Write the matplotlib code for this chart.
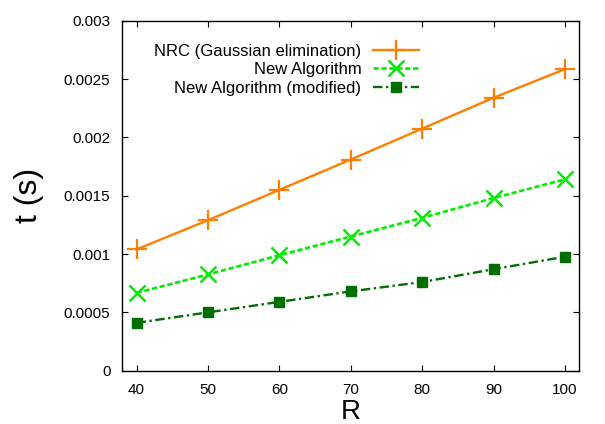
import matplotlib
matplotlib.use("Agg")
import matplotlib.pyplot as plt
from matplotlib.ticker import FixedLocator, FixedFormatter

plt.rcParams['font.family'] = ['Liberation Sans', 'DejaVu Sans']

R = [40, 50, 60, 70, 80, 90, 100]
nrc = [1.04e-3, 1.29e-3, 1.55e-3, 1.81e-3, 2.075e-3, 2.34e-3, 2.585e-3]
new_alg = [0.667e-3, 0.825e-3, 0.99e-3, 1.15e-3, 1.31e-3, 1.48e-3, 1.64e-3]
new_mod = [0.41e-3, 0.50e-3, 0.59e-3, 0.68e-3, 0.76e-3, 0.87e-3, 0.977e-3]

labels = ["NRC (Gaussian elimination)", "New Algorithm", "New Algorithm (modified)"]
xticks = [40, 50, 60, 70, 80, 90, 100]
yticks = [0, 0.0005, 0.001, 0.0015, 0.002, 0.0025, 0.003]
ytick_labels = ["0", "0.0005", "0.001", "0.0015", "0.002", "0.0025", "0.003"]

fig = plt.figure(figsize=(6.05, 4.24), dpi=100)
ax = fig.add_axes([122.3/605, 1-370.7/424, (579.3-122.3)/605, (370.7-20.7)/424])

ax.plot(R, nrc, color='#ff7f00', lw=1.7, ls='-', marker='+', ms=14.5, mew=1.6, label=labels[0])
ax.plot(R, new_alg, color='#00ee00', lw=1.9, ls=(0, (2, 1)), marker='x', ms=11, mew=1.8, label=labels[1])
ax.plot(R, new_mod, color='#006e00', lw=1.7, ls=(0, (4, 1.5, 1, 1.5)), marker='s', ms=7, mew=1, label=labels[2])

ax.set_xlim(38, 102)
ax.set_ylim(0, 0.003)
ax.xaxis.set_major_locator(FixedLocator(xticks))
ax.yaxis.set_major_locator(FixedLocator(yticks))
ax.yaxis.set_major_formatter(FixedFormatter(ytick_labels))
ax.tick_params(direction='in', length=4, width=0.8, top=True, right=True, labelsize=11, pad=8.5)
for s in ax.spines.values():
    s.set_linewidth(1.0)

ax.set_xlabel("R", fontsize=20, labelpad=2)
ax.set_ylabel("t (s)", fontsize=23, labelpad=14)

leg = ax.legend(loc='upper right', bbox_to_anchor=(419/605, 1-44/424), bbox_transform=fig.transFigure,
                frameon=False, markerfirst=False, fontsize=12, handlelength=2.75, handletextpad=0.7,
                labelspacing=0.2, borderpad=0, borderaxespad=0)
for t in leg.get_texts():
    t.set_ha('right')
leg._legend_box.align = 'right'

fig.savefig("out.png", dpi=100)
